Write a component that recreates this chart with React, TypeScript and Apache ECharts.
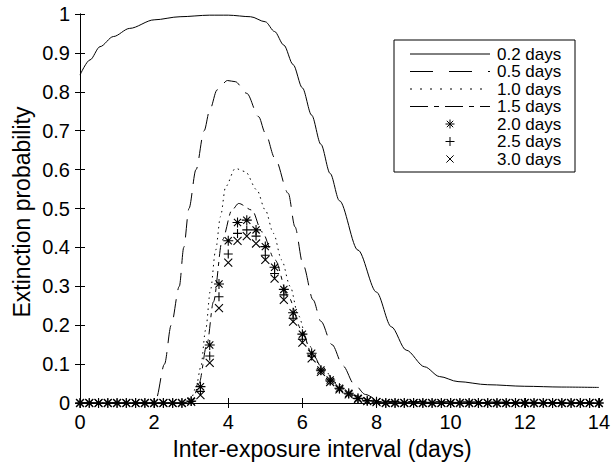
import React, { useEffect, useRef } from "react";
import * as echarts from "echarts";

// Marker sampling (days)
const markerX = [
  0, 0.25, 0.5, 0.75, 1, 1.25, 1.5, 1.75, 2, 2.25, 2.5, 2.75,
  3, 3.25, 3.5, 3.75, 4, 4.25, 4.5, 4.75, 5, 5.25, 5.5, 5.75, 6, 6.25, 6.5, 6.75, 7, 7.25, 7.5, 7.75, 8,
  8.25, 8.5, 8.75, 9, 9.25, 9.5, 9.75, 10, 10.25, 10.5, 10.75, 11, 11.25, 11.5, 11.75, 12,
  12.25, 12.5, 12.75, 13, 13.25, 13.5, 13.75, 14,
];
const zeros12 = [0, 0, 0, 0, 0, 0, 0, 0, 0, 0, 0, 0];
const zeros24 = [0, 0, 0, 0, 0, 0, 0, 0, 0, 0, 0, 0, 0, 0, 0, 0, 0, 0, 0, 0, 0, 0, 0, 0];
const mid20 = [0.005, 0.042, 0.149, 0.306, 0.417, 0.464, 0.47, 0.445, 0.402, 0.349, 0.292, 0.232, 0.177, 0.128, 0.085, 0.059, 0.038, 0.025, 0.012, 0.006, 0.003];
const mid25 = [0.004, 0.03, 0.121, 0.273, 0.383, 0.436, 0.445, 0.429, 0.38, 0.333, 0.278, 0.218, 0.164, 0.121, 0.083, 0.056, 0.036, 0.023, 0.011, 0.005, 0.002];
const mid30 = [0.003, 0.02, 0.103, 0.244, 0.361, 0.417, 0.429, 0.41, 0.368, 0.32, 0.265, 0.209, 0.155, 0.115, 0.08, 0.054, 0.035, 0.022, 0.01, 0.005, 0.002];
const days20 = [...zeros12, ...mid20, ...zeros24];
const days25 = [...zeros12, ...mid25, ...zeros24];
const days30 = [...zeros12, ...mid30, ...zeros24];

// Curves
const x02 = [0, 0.27, 0.54, 0.9, 1.34, 2.0, 2.7, 3.5, 4.0, 4.6, 5.0, 5.25, 5.5, 5.75, 6.0, 6.25, 6.5, 6.75, 7.0, 7.5, 8.0, 8.4, 8.8, 9.3, 9.7, 10.2, 11, 12, 13, 14];
const y02 = [0.843, 0.882, 0.916, 0.942, 0.963, 0.985, 0.993, 0.997, 0.997, 0.993, 0.98, 0.955, 0.92, 0.87, 0.81, 0.74, 0.665, 0.59, 0.52, 0.393, 0.285, 0.196, 0.136, 0.093, 0.068, 0.055, 0.047, 0.043, 0.041, 0.04];
const x05 = [0, 1.9, 2.05, 2.28, 2.46, 2.68, 2.8, 2.94, 3.13, 3.35, 3.5, 3.7, 3.98, 4.19, 4.5, 4.82, 5.0, 5.26, 5.62, 5.8, 6.02, 6.29, 6.5, 6.8, 7.1, 7.4, 7.7, 8.0, 8.3, 14];
const y05 = [0, 0, 0.01, 0.1, 0.2, 0.3, 0.4, 0.5, 0.6, 0.7, 0.753, 0.805, 0.829, 0.826, 0.796, 0.736, 0.694, 0.629, 0.539, 0.453, 0.355, 0.265, 0.21, 0.15, 0.095, 0.048, 0.022, 0.01, 0.004, 0];
const x10 = [0, 2.8, 3.0, 3.13, 3.26, 3.39, 3.52, 3.66, 3.79, 3.93, 4.19, 4.46, 4.77, 5.0, 5.22, 5.44, 5.67, 5.89, 6.16, 6.5, 6.96, 7.32, 7.76, 8.2, 14];
const y10 = [0, 0, 0.012, 0.04, 0.093, 0.188, 0.29, 0.393, 0.479, 0.556, 0.603, 0.595, 0.548, 0.496, 0.436, 0.368, 0.3, 0.225, 0.15, 0.093, 0.05, 0.02, 0.006, 0.001, 0];
const x15 = [0, 2.9, 3.05, 3.21, 3.43, 3.6, 3.84, 4.1, 4.28, 4.64, 4.91, 5.26, 5.62, 5.98, 6.25, 6.6, 7.0, 7.4, 7.8, 8.2, 14];
const y15 = [0, 0, 0.01, 0.05, 0.153, 0.26, 0.419, 0.496, 0.513, 0.496, 0.44, 0.368, 0.273, 0.188, 0.128, 0.08, 0.042, 0.02, 0.008, 0.002, 0];

const legendLabels = ["0.2 days", "0.5 days", "1.0 days", "1.5 days", "2.0 days", "2.5 days", "3.0 days"];
const xTitle = "Inter-exposure interval (days)";
const yTitle = "Extinction probability";
const xTicks = { min: 0, max: 14, interval: 2 };
const yTicks = { min: 0, max: 1, interval: 0.1 };

const FONT = "Liberation Sans, Arial, Helvetica, sans-serif";
const SYM_AST = "path://M0,-5L0,5M-5,0L5,0M-3.6,-3.6L3.6,3.6M-3.6,3.6L3.6,-3.6";
const SYM_PLUS = "path://M0,-5L0,5M-5,0L5,0";
const SYM_X = "path://M-4,-4L4,4M-4,4L4,-4";

const zip = (xs: number[], ys: number[]) => xs.map((x, i) => [x, ys[i]]);

export default function App() {
  const ref = useRef<HTMLDivElement>(null);
  useEffect(() => {
    if (!ref.current) return;
    const chart = echarts.init(ref.current, undefined, { renderer: "svg" });

    const lineSeries = (name: string, data: number[][], type: any) => ({
      name,
      type: "line",
      data,
      showSymbol: false,
      smooth: 0.3,
      smoothMonotone: "x",
      lineStyle: { color: "#000", width: 1, type },
      z: 2,
    });
    const scatterSeries = (name: string, ys: number[], symbol: string, size: number) => ({
      name,
      type: "scatter",
      data: zip(markerX, ys),
      symbol,
      symbolSize: size,
      clip: false,
      itemStyle: { color: "none", borderColor: "#000", borderWidth: 1.1, opacity: 1 },
      z: 3,
    });

    // Legend drawn manually
    const lx = 394, ly = 40, lw = 181, lh = 132;
    const rowY = [54, 71.5, 89, 106.5, 124, 141.5, 159];
    const g: any[] = [
      { type: "rect", shape: { x: lx, y: ly, width: lw, height: lh }, style: { fill: "#fff", stroke: "#000", lineWidth: 1 }, z: 10 },
    ];
    const dashes: any[] = [null, [23, 16], [2, 8], [18, 6, 5, 6]];
    for (let i = 0; i < 4; i++) {
      g.push({
        type: "line",
        shape: { x1: 410, y1: rowY[i], x2: 490, y2: rowY[i] },
        style: { stroke: "#000", lineWidth: 1, lineDash: dashes[i] },
        z: 11,
      });
    }
    const mk = (segs: number[][], cy: number) =>
      segs.forEach((s) =>
        g.push({
          type: "line",
          shape: { x1: 450 + s[0], y1: cy + s[1], x2: 450 + s[2], y2: cy + s[3] },
          style: { stroke: "#000", lineWidth: 1 },
          z: 11,
        })
      );
    mk([[0, -4.5, 0, 4.5], [-4.5, 0, 4.5, 0], [-3.2, -3.2, 3.2, 3.2], [-3.2, 3.2, 3.2, -3.2]], rowY[4]);
    mk([[0, -4.5, 0, 4.5], [-4.5, 0, 4.5, 0]], rowY[5]);
    mk([[-3.6, -3.6, 3.6, 3.6], [-3.6, 3.6, 3.6, -3.6]], rowY[6]);
    legendLabels.forEach((t, i) =>
      g.push({
        type: "text",
        x: 497,
        y: rowY[i],
        style: { text: t, fill: "#000", font: `17px ${FONT}`, lineHeight: 17, verticalAlign: "middle", align: "left" },
        z: 11,
      })
    );
    // Axis titles
    g.push({
      type: "text",
      x: 322,
      y: 449,
      style: { text: xTitle, fill: "#000", font: `23px ${FONT}`, verticalAlign: "middle", align: "center" },
      z: 11,
    });
    g.push({
      type: "text",
      x: 22,
      y: 212,
      rotation: Math.PI / 2,
      style: { text: yTitle, fill: "#000", font: `23px ${FONT}`, verticalAlign: "middle", align: "center" },
      z: 11,
    });

    const axisCommon = {
      axisLine: { show: true, lineStyle: { color: "#000", width: 1 } },
      axisTick: { show: true, inside: true, length: 5, lineStyle: { color: "#000" } },
      splitLine: { show: false },
    };

    chart.setOption({
      animation: false,
      backgroundColor: "#fff",
      textStyle: { fontFamily: FONT },
      grid: { left: 80, right: 10, top: 14, bottom: 63, containLabel: false },
      xAxis: [
        {
          type: "value",
          ...xTicks,
          position: "bottom",
          ...axisCommon,
          axisLabel: { color: "#000", fontSize: 20, margin: 9, fontFamily: FONT },
        },
        { type: "value", ...xTicks, position: "top", ...axisCommon, axisLabel: { show: false } },
      ],
      yAxis: [
        {
          type: "value",
          ...yTicks,
          position: "left",
          ...axisCommon,
          axisLabel: { color: "#000", fontSize: 20, margin: 10, fontFamily: FONT },
        },
        { type: "value", ...yTicks, position: "right", ...axisCommon, axisLabel: { show: false } },
      ],
      graphic: g,
      series: [
        lineSeries(legendLabels[0], zip(x02, y02), "solid"),
        lineSeries(legendLabels[1], zip(x05, y05), [18, 9]),
        lineSeries(legendLabels[2], zip(x10, y10), [1.5, 4]),
        lineSeries(legendLabels[3], zip(x15, y15), [12, 5, 4, 5]),
        scatterSeries(legendLabels[4], days20, SYM_AST, 10),
        scatterSeries(legendLabels[5], days25, SYM_PLUS, 9),
        scatterSeries(legendLabels[6], days30, SYM_X, 8),
      ],
    });
    return () => chart.dispose();
  }, []);
  return <div ref={ref} style={{ position: "fixed", left: 0, top: 0, width: 613, height: 466 }} />;
}
